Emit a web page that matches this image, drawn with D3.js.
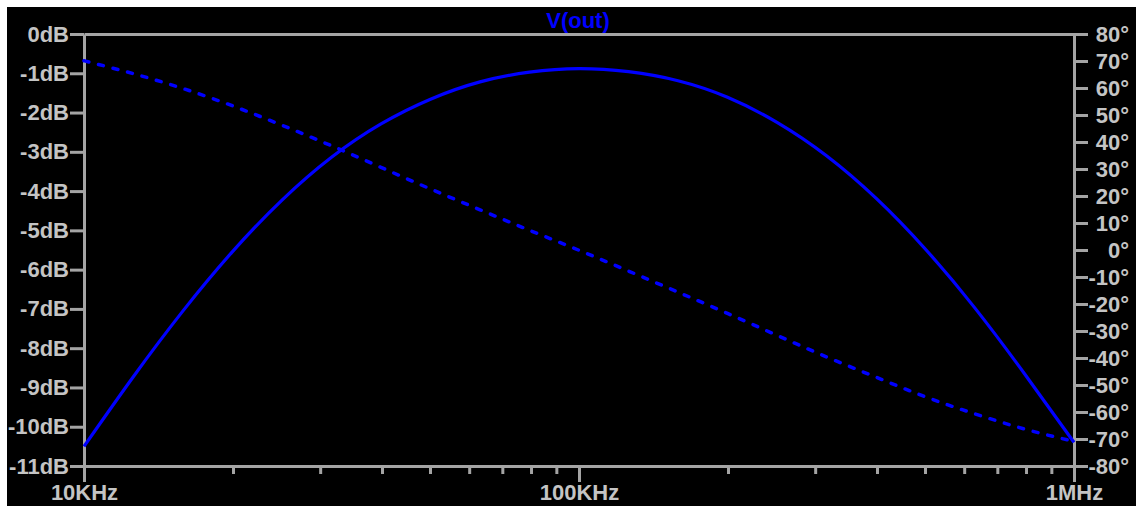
<!DOCTYPE html>
<html>
<head>
<meta charset="utf-8">
<title>V(out)</title>
<script src="https://d3js.org/d3.v7.min.js"></script>
<style>
body { margin:0; background:#fff; }
svg { display:block; }
.axis text { font-family:"Liberation Sans", Arial, sans-serif; font-weight:bold; font-size:22px; fill:#c4c4c4; }
.axis path, .axis line { stroke:#a4a4a4; stroke-width:3; }
</style>
</head>
<body>
<svg width="1136" height="506"></svg>
<script>
// frequencies (Hz), 10 points per decade
var freqs = [10000, 12589, 15849, 19953, 25119, 31623, 39811, 50119, 63096, 79433,
  100000, 125893, 158489, 199526, 251189, 316228, 398107, 501187, 630957, 794328, 1000000];
// magnitude of V(out), dB
var magDb = [-10.50, -8.72, -7.05, -5.54, -4.23, -3.14, -2.29, -1.66, -1.22, -0.97,
  -0.88, -0.96, -1.19, -1.61, -2.25, -3.10, -4.18, -5.48, -6.98, -8.65, -10.40];
// phase of V(out), degrees
var phaseDeg = [70.1, 65.3, 59.8, 53.4, 46.2, 38.6, 30.6, 22.6, 14.9, 7.3,
  -0.1, -7.8, -15.6, -23.5, -31.6, -39.6, -47.1, -54.4, -60.7, -66.3, -70.9];

var dbTicks = [0, -1, -2, -3, -4, -5, -6, -7, -8, -9, -10, -11];
var degTicks = [80, 70, 60, 50, 40, 30, 20, 10, 0, -10, -20, -30, -40, -50, -60, -70, -80];
var freqMajor = [10000, 100000, 1000000];
var freqMajorLabels = ["10KHz", "100KHz", "1MHz"];
var freqMinor = [20000, 30000, 40000, 50000, 60000, 70000, 80000, 90000,
  200000, 300000, 400000, 500000, 600000, 700000, 800000, 900000];

var svg = d3.select("svg");
// plot box (window.top is read-only, so other names)
var pL = 84, pR = 1074, pT = 34, pB = 466;

svg.append("rect").attr("x", 7).attr("y", 7).attr("width", 1136 - 7).attr("height", 506 - 7).attr("fill", "#000");

var x = d3.scaleLog().domain([10000, 1000000]).range([pL, pR]);
var yDb = d3.scaleLinear().domain([-11, 0]).range([pB, pT]);
var yPh = d3.scaleLinear().domain([-80, 80]).range([pB, pT]);

// top frame line
svg.append("g").attr("class", "axis").attr("transform", "translate(0," + pT + ")")
  .call(d3.axisTop(x).tickValues([]).tickSizeOuter(0));

// minor freq ticks
svg.append("g").attr("class", "axis").attr("transform", "translate(0," + pB + ")")
  .call(d3.axisBottom(x).tickValues(freqMinor).tickSize(8).tickSizeOuter(0).tickFormat(""));

// major freq ticks
svg.append("g").attr("class", "axis").attr("transform", "translate(0," + pB + ")")
  .call(d3.axisBottom(x).tickValues(freqMajor).tickSize(16).tickSizeOuter(0).tickPadding(2)
    .tickFormat(function(d, i) { return freqMajorLabels[i]; }));

// left dB axis
svg.append("g").attr("class", "axis").attr("transform", "translate(" + pL + ",0)")
  .call(d3.axisLeft(yDb).tickValues(dbTicks).tickSize(14).tickSizeOuter(0).tickPadding(1)
    .tickFormat(function(d) { return d + "dB"; }));

// right phase axis, labels right-aligned
var ra = svg.append("g").attr("class", "axis").attr("transform", "translate(" + pR + ",0)")
  .call(d3.axisRight(yPh).tickValues(degTicks).tickSize(14).tickSizeOuter(0)
    .tickFormat(function(d) { return d + "\u00b0"; }));
ra.selectAll("text").attr("text-anchor", "end").attr("x", 1129 - pR);

svg.selectAll(".axis .domain").attr("fill", "none");

// curves
var magLine = d3.line()
  .x(function(d, i) { return x(freqs[i]); })
  .y(function(d) { return yDb(d); })
  .curve(d3.curveNatural);
var phLine = d3.line()
  .x(function(d, i) { return x(freqs[i]); })
  .y(function(d) { return yPh(d); })
  .curve(d3.curveNatural);

svg.append("path").datum(phaseDeg).attr("d", phLine)
  .attr("fill", "none").attr("stroke", "#0000ff").attr("stroke-width", 3.5)
  .attr("stroke-dasharray", "5,10").attr("stroke-linecap", "round");
svg.append("path").datum(magDb).attr("d", magLine)
  .attr("fill", "none").attr("stroke", "#0000ff").attr("stroke-width", 3.2);

// title
svg.append("text").attr("x", 578).attr("y", 28).attr("text-anchor", "middle")
  .style("font-family", "'Liberation Sans', Arial, sans-serif").style("font-weight", "bold")
  .style("font-size", "22px").attr("fill", "#0000ff").text("V(out)");
</script>
</body>
</html>
